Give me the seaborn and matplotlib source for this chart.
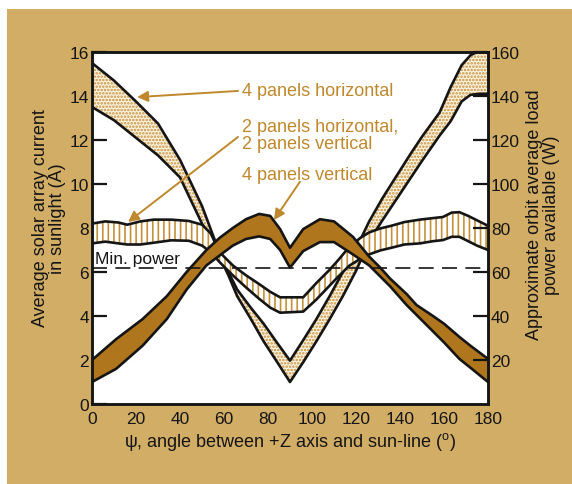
import numpy as np
import pandas as pd
import matplotlib
matplotlib.use("Agg")
import matplotlib.pyplot as plt
from matplotlib.patches import Rectangle
import seaborn as sns

# ---------------- data ----------------
# "4 panels horizontal" band (dotted)
x_dot = [0, 10, 20, 30, 40, 50, 56, 62, 66, 72, 78, 84, 90, 96, 102, 108, 114,
         120, 126, 132, 138, 145, 150, 158, 163, 168, 172, 176, 180]
dot_hi = [15.5, 14.7, 13.75, 12.75, 11.1, 9.0, 7.4, 6.0, 5.2, 4.4, 3.65, 2.8, 1.97,
          2.9, 3.86, 4.9, 6.0, 7.05, 8.3, 9.35, 10.3, 11.4, 12.15, 13.25, 14.4,
          15.4, 15.85, 16.05, 16.05]
dot_lo = [13.5, 12.9, 12.1, 11.3, 10.3, 8.2, 7.1, 5.85, 4.9, 3.9, 2.85, 1.93, 1.0,
          1.9, 2.85, 3.85, 4.9, 6.05, 7.4, 8.35, 9.25, 10.3, 11.05, 12.2, 12.85,
          13.75, 14.05, 14.1, 14.1]

# "2 panels horizontal, 2 panels vertical" band (vertical hatch)
x_hat = [0, 6, 12, 16, 22, 28, 36, 44, 50, 54, 58, 64, 70, 76, 81, 85.5, 96, 102,
         108, 112, 117, 122, 126, 131, 136, 142, 149, 155, 159.5, 163.5, 167, 171,
         175, 180]
hat_hi = [8.2, 8.3, 8.25, 8.15, 8.3, 8.38, 8.38, 8.32, 8.15, 7.75, 6.9, 6.3, 5.85,
          5.45, 5.1, 4.85, 4.85, 5.5, 6.1, 6.55, 7.15, 7.55, 7.8, 7.98, 8.1, 8.27,
          8.38, 8.45, 8.5, 8.7, 8.72, 8.55, 8.35, 8.1]
hat_lo = [7.3, 7.38, 7.3, 7.25, 7.25, 7.33, 7.44, 7.42, 7.2, 6.9, 6.45, 5.85, 5.3,
          4.78, 4.38, 4.15, 4.2, 4.75, 5.38, 5.8, 6.29, 6.6, 6.8, 6.98, 7.1, 7.25,
          7.3, 7.4, 7.45, 7.6, 7.6, 7.4, 7.2, 7.0]

# "4 panels vertical" band (solid brown)
x_br = [0, 11, 23, 34, 43, 52, 58, 64, 70, 76, 81, 85.5, 90, 96, 103.6, 110, 118.6,
        126, 131, 135.5, 143, 147.5, 155, 160, 167, 172, 180]
br_hi = [2.0, 2.95, 3.86, 4.9, 6.0, 7.0, 7.55, 8.0, 8.4, 8.64, 8.55, 7.95, 7.1,
         7.95, 8.4, 8.3, 7.6, 6.7, 6.2, 5.7, 5.0, 4.5, 4.0, 3.65, 3.05, 2.65, 2.05]
br_lo = [1.0, 1.6, 2.65, 3.86, 5.2, 6.3, 6.75, 7.2, 7.5, 7.62, 7.5, 7.0, 6.2,
         6.95, 7.36, 7.36, 6.8, 6.3, 5.8, 5.35, 4.5, 4.05, 3.3, 2.8, 2.05, 1.65, 1.0]

min_power = 6.2

left_ticks = [0, 2, 4, 6, 8, 10, 12, 14, 16]
right_ticks = [20, 40, 60, 80, 100, 120, 140, 160]
x_ticks = [0, 20, 40, 60, 80, 100, 120, 140, 160, 180]

labels = ["4 panels horizontal", "2 panels horizontal,\n2 panels vertical",
          "4 panels vertical"]
label_pos = [(68.2, 14.23), (68.2, 12.22), (68.2, 10.45)]
arrow_tail = [(66.4, 14.23), (66.4, 12.14), (94.5, 10.1)]
arrow_head = [(20.5, 13.95), (16.4, 8.27), (82.7, 8.36)]

# ---------------- style ----------------
sns.set_theme(style="white")
plt.rcParams["font.family"] = ["Liberation Sans", "DejaVu Sans"]
plt.rcParams["mathtext.fontset"] = "custom"
plt.rcParams["mathtext.rm"] = "Liberation Sans"
plt.rcParams["hatch.linewidth"] = 1.2

TAN = "#D1AD66"
BROWN = "#B0761E"
GOLD = "#BF882C"
HATCH = "#C4913A"
INK = "#151515"
EDGE_LW = 1.9

fig = plt.figure(figsize=(5.72, 4.85), dpi=100, facecolor="white")
fig.patches.append(Rectangle((7 / 572, 0), 1, 1 - 10 / 485, transform=fig.transFigure,
                             facecolor=TAN, edgecolor="none", zorder=-10))
ax = fig.add_axes([92 / 572, 1 - 405 / 485, 396 / 572, 352 / 485])
ax.set_facecolor("white")

# dotted band
ax.fill_between(x_dot, dot_lo, dot_hi, facecolor="#FAF1DF", edgecolor=HATCH,
                hatch=".....", linewidth=0, zorder=1)
for ys in (dot_hi, dot_lo):
    sns.lineplot(x=x_dot, y=ys, ax=ax, color=INK, lw=EDGE_LW, zorder=2, sort=False)

# hatched band
ax.fill_between(x_hat, hat_lo, hat_hi, facecolor="white", edgecolor=HATCH,
                hatch="|||", linewidth=0, zorder=3)
for ys in (hat_hi, hat_lo):
    sns.lineplot(x=x_hat, y=ys, ax=ax, color=INK, lw=EDGE_LW, zorder=4, sort=False)

# brown band
ax.fill_between(x_br, br_lo, br_hi, facecolor=BROWN, edgecolor="none",
                linewidth=0, zorder=5)
for ys in (br_hi, br_lo):
    sns.lineplot(x=x_br, y=ys, ax=ax, color=INK, lw=EDGE_LW, zorder=6, sort=False)

# minimum power line
ax.axhline(min_power, color=INK, lw=1.2, dashes=(9, 5), zorder=7)
ax.text(1.3, 6.63, "Min. power", fontsize=12.5, color=INK, va="center", ha="left",
        zorder=8)

# annotations
for txt, pos, tail, head in zip(labels, label_pos, arrow_tail, arrow_head):
    ax.text(pos[0], pos[1], txt, fontsize=13, color=GOLD, ha="left", va="center",
            linespacing=1.0, zorder=9)
    ax.annotate("", xy=head, xytext=tail,
                arrowprops=dict(arrowstyle="-|>", color=GOLD, lw=1.4,
                                mutation_scale=16, shrinkA=0, shrinkB=0),
                zorder=9)

# axes
ax.set_xlim(0, 180)
ax.set_ylim(0, 16)
ax.set_xticks(x_ticks)
ax.set_yticks(left_ticks)
ax.tick_params(axis="x", length=0, pad=5, labelsize=12.5, colors=INK)
ax.tick_params(axis="y", direction="in", length=11, width=1.6, pad=2,
               labelsize=12.5, colors=INK)
ax.set_xlabel("\u03c8, angle between +Z axis and sun-line (" + r"$^{\mathrm{o}}$" + ")",
              fontsize=13, color=INK, labelpad=3)
ax.text(-0.108, 0.53, "Average solar array current\nin sunlight (A)", transform=ax.transAxes,
        rotation=90, ha="center", va="center", fontsize=13, color=INK, linespacing=1.0,
        multialignment="center")

ax2 = ax.twinx()
ax2.set_ylim(0, 160)
ax2.set_yticks(right_ticks)
ax2.tick_params(axis="y", direction="in", length=11, width=1.6, pad=2,
                labelsize=12.5, colors=INK)
ax2.text(1.14, 0.54, "Approximate orbit average load\npower available (W)",
         transform=ax.transAxes, rotation=90, ha="center", va="center", fontsize=13,
         color=INK, linespacing=1.0, multialignment="center")

for a in (ax, ax2):
    for s in a.spines.values():
        s.set_color(INK)
        s.set_linewidth(1.8)
        s.set_zorder(20)
        s.set_visible(True)

fig.savefig("out.png", dpi=100, facecolor=fig.get_facecolor())
